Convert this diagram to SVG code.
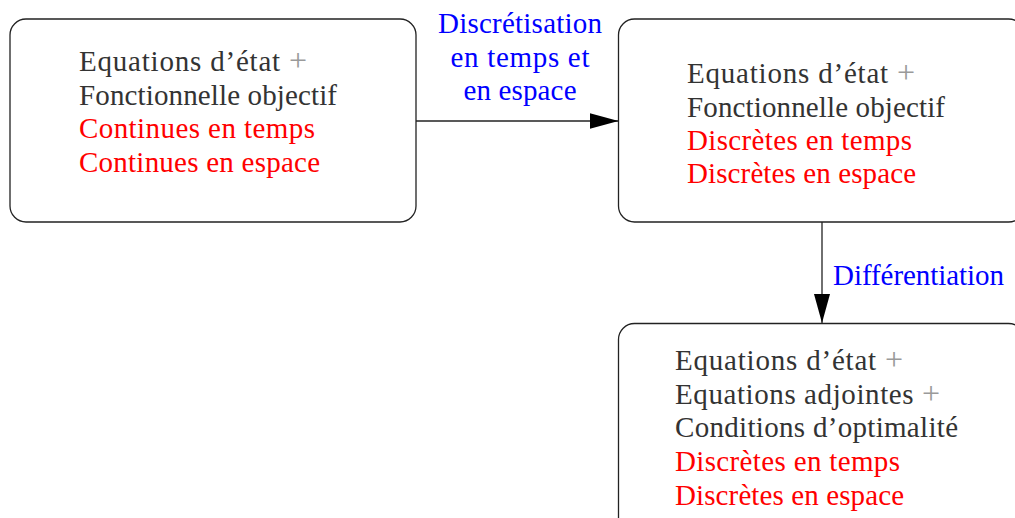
<svg xmlns="http://www.w3.org/2000/svg" width="1015" height="518" viewBox="0 0 1015 518">
<style>
.box{fill:#fff;stroke:#222;stroke-width:1.3}
text{font-family:"Liberation Serif","DejaVu Serif",serif;font-size:29px}
.k{fill:#333}
.p{fill:#9a9a9a;font-size:32px}
.r{fill:#ff0000}
.b{fill:#0000ff}
.edge{stroke:#222;stroke-width:1.3;fill:none}
</style>
<defs>
<marker id="ah" markerWidth="29" markerHeight="16" refX="29" refY="8" orient="auto" markerUnits="userSpaceOnUse">
<path d="M0,0 L29,8 L0,16 Z" fill="#000"/>
</marker>
</defs>
<rect width="1015" height="518" fill="#fff"/>
<g id="connectors">
<line class="edge" x1="416" y1="121" x2="618.5" y2="121" marker-end="url(#ah)"/>
<line class="edge" x1="822" y1="222" x2="822" y2="323" marker-end="url(#ah)"/>
<g id="label-discretisation">
<text class="b" x="520" y="33" text-anchor="middle" textLength="164">Discrétisation</text>
<text class="b" x="520" y="67" text-anchor="middle" textLength="139">en temps et</text>
<text class="b" x="520" y="100" text-anchor="middle" textLength="113">en espace</text>
</g>
<g id="label-differentiation">
<text class="b" x="833" y="285" textLength="171">Différentiation</text>
</g>
</g>
<g id="node1">
<rect class="box" x="10" y="19" width="406" height="203" rx="16" ry="16"/>
<text class="k" x="79" y="71" textLength="228">Equations d’état <tspan class="p">+</tspan></text>
<text class="k" x="79" y="105" textLength="258">Fonctionnelle objectif</text>
<text class="r" x="79" y="138" textLength="236">Continues en temps</text>
<text class="r" x="79" y="172" textLength="241">Continues en espace</text>
</g>
<g id="node2">
<rect class="box" x="618.5" y="19" width="406" height="203" rx="16" ry="16"/>
<text class="k" x="687" y="83" textLength="228">Equations d’état <tspan class="p">+</tspan></text>
<text class="k" x="687" y="117" textLength="258">Fonctionnelle objectif</text>
<text class="r" x="687" y="150" textLength="225">Discrètes en temps</text>
<text class="r" x="687" y="183" textLength="229">Discrètes en espace</text>
</g>
<g id="node3">
<rect class="box" x="618.5" y="323.5" width="406" height="220" rx="16" ry="16"/>
<text class="k" x="675" y="370" textLength="228">Equations d’état <tspan class="p">+</tspan></text>
<text class="k" x="675" y="404" textLength="265">Equations adjointes <tspan class="p">+</tspan></text>
<text class="k" x="675" y="437" textLength="283">Conditions d’optimalité</text>
<text class="r" x="675" y="471" textLength="225">Discrètes en temps</text>
<text class="r" x="675" y="505" textLength="229">Discrètes en espace</text>
</g>
</svg>
